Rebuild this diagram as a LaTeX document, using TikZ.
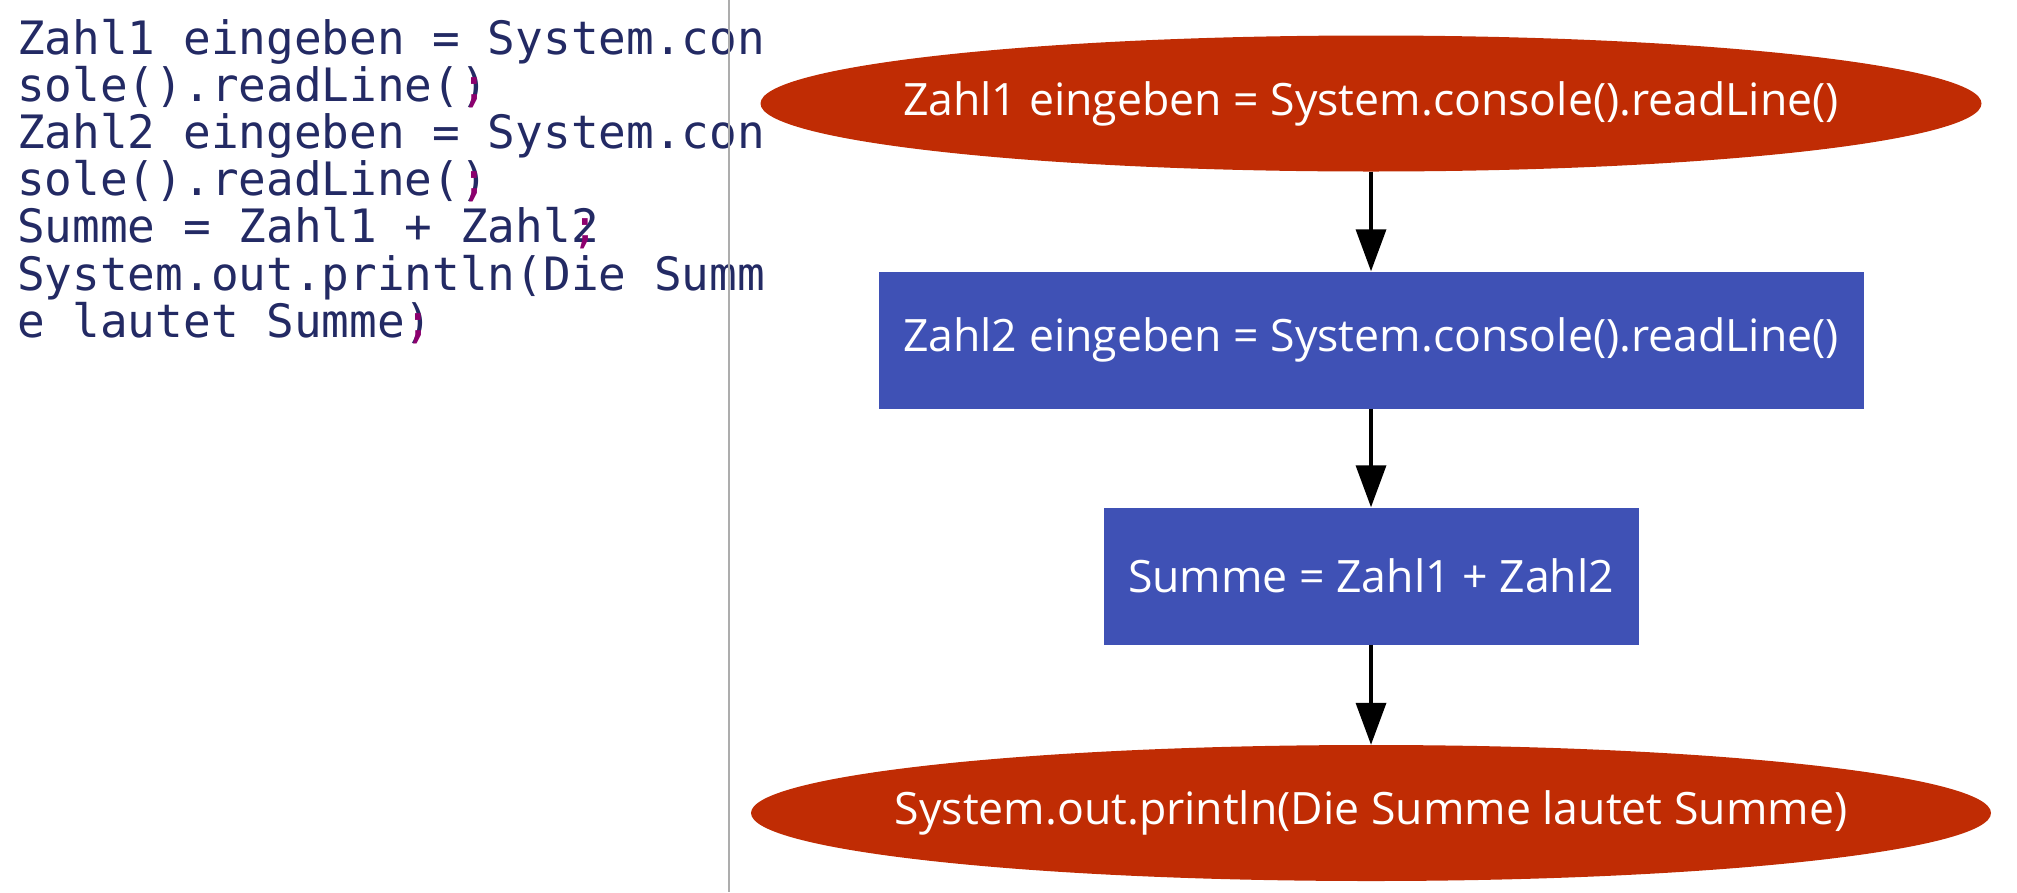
\documentclass[tikz,border=0pt]{standalone}
\usepackage{fontspec}
\setmainfont{Open Sans}
\setmonofont{DejaVu Sans Mono}
\usetikzlibrary{arrows.meta,shapes.geometric}

\definecolor{termred}{RGB}{192,44,4}
\definecolor{procblue}{RGB}{63,81,181}
\definecolor{codenavy}{RGB}{35,42,100}
\definecolor{semimag}{RGB}{140,0,110}
\newcommand{\semi}{\llap{\textcolor{semimag}{;}}}

\begin{document}
\begin{tikzpicture}[x=1pt, y=-1pt, >={Triangle[length=42pt,width=30pt]},
    terminal/.style={ellipse, fill=termred, text=white, inner xsep=-80pt, inner ysep=0pt, minimum height=136pt},
    process/.style={rectangle, fill=procblue, text=white, inner sep=0pt, minimum height=137pt},
    codeline/.style={anchor=base west, inner sep=0pt, text=codenavy, font=\ttfamily\fontsize{46}{47}\selectfont},
    font=\fontsize{44.6}{54}\selectfont]
    \useasboundingbox (0,0) rectangle (2017,892);

    % Code listing
    \foreach \txt [count=\i] in {{Zahl1 eingeben = System.con}, {sole().readLine()\semi},
        {Zahl2 eingeben = System.con}, {sole().readLine()\semi}, {Summe = Zahl1 + Zahl2\semi},
        {System.out.println(Die Summ}, {e lautet Summe)\semi}}
        \node[codeline] (code\i) at (17,{54+47.2*(\i-1)}) {\txt};

    % Separator
    \draw[line width=2pt, black!32] (729,0) -- (729,892);

    % Flow chart
    \node[terminal, minimum width=1221pt] (read1) at (1371,103.5) {Zahl1 eingeben = System.console().readLine()};
    \node[process, minimum width=985pt] (read2) at (1371,340) {Zahl2 eingeben = System.console().readLine()};
    \node[process, minimum width=535pt] (sum) at (1371,576) {Summe = Zahl1 + Zahl2};
    \node[terminal, minimum width=1240pt] (print) at (1371,813) {System.out.println(Die Summe lautet Summe)};

    \draw[->, line width=3.5pt] (read1) -- (read2);
    \draw[->, line width=3.5pt] (read2) -- (sum);
    \draw[->, line width=3.5pt] (sum) -- (print);
\end{tikzpicture}
\end{document}
